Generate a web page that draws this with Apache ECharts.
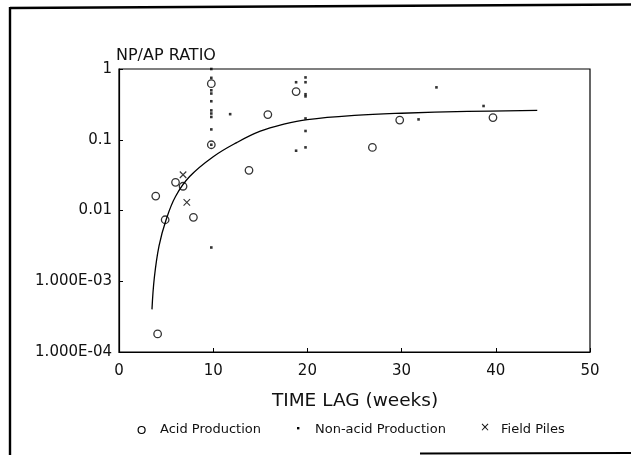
<!DOCTYPE html>
<html>
<head>
<meta charset="utf-8">
<title>NP/AP ratio vs time lag</title>
<script src="https://cdn.jsdelivr.net/npm/echarts@6/dist/echarts.min.js"></script>
<style>
  html, body { margin: 0; padding: 0; background: #fff; }
  #chart { width: 631px; height: 455px; }
</style>
</head>
<body>
<div id="chart"></div>
<script>
// Acid production samples (open circles)
const acidWeeks = [3.9, 4.1, 4.9, 6.0, 6.8, 7.9, 9.8, 9.8, 13.8, 15.8, 18.8, 26.9, 29.8, 39.7];
const acidRatio = [0.016, 0.00018, 0.0074, 0.025, 0.022, 0.008, 0.62, 0.085, 0.037, 0.227, 0.48, 0.078, 0.19, 0.206];

// Non-acid production samples (small dots)
const nonAcidWeeks = [9.8, 9.8, 9.8, 9.8, 9.8, 9.8, 9.8, 9.8, 9.8, 9.8, 9.8, 11.8,
                      18.8, 18.8, 19.8, 19.8, 19.8, 19.8, 19.8, 19.8, 19.8, 31.8, 33.7, 38.7];
const nonAcidRatio = [1.0, 0.75, 0.5, 0.45, 0.35, 0.26, 0.235, 0.21, 0.14, 0.085, 0.003, 0.23,
                      0.65, 0.07, 0.76, 0.65, 0.44, 0.41, 0.2, 0.133, 0.078, 0.194, 0.55, 0.3];

// Field piles (crosses)
const pileWeeks = [6.8, 7.2];
const pileRatio = [0.032, 0.013];

// Fitted trend curve
const curveWeeks = [3.5, 3.75, 4.25, 5.0, 6.0, 7.5, 10.0, 12.5, 15.0, 17.5, 20.0, 25.0, 30.0, 37.0, 44.4];
const curveRatio = [0.0004, 0.00112, 0.00316, 0.0074, 0.0158, 0.0302, 0.0575, 0.0912, 0.132, 0.166, 0.193, 0.221, 0.237, 0.251, 0.26];

// Axis tick labels
const xTicks = [0, 10, 20, 30, 40, 50];
const yTickLabels = ['1.000E-04', '1.000E-03', '0.01', '0.1', '1'];

const zip = (xs, ys) => xs.map((x, i) => [x, ys[i]]);

const FONT = 'DejaVu Sans';
const INK = '#111';

const chart = echarts.init(document.getElementById('chart'), null, { renderer: 'canvas' });

chart.setOption({
  animation: false,
  backgroundColor: '#fff',
  grid: {
    left: 119, top: 69, width: 471, height: 283,
    show: true, borderColor: '#000', borderWidth: 1.2, backgroundColor: 'transparent'
  },
  xAxis: {
    type: 'value',
    min: xTicks[0], max: xTicks[xTicks.length - 1], interval: 10,
    axisLine: { show: true, lineStyle: { color: '#000', width: 1.2 } },
    axisTick: { show: true, inside: true, length: 4, lineStyle: { color: '#000' } },
    splitLine: { show: false },
    axisLabel: { fontFamily: FONT, fontSize: 15, color: INK, margin: 12 }
  },
  yAxis: {
    type: 'log', logBase: 10, min: 0.0001, max: 1,
    axisLine: { show: true, lineStyle: { color: '#000', width: 1.2 } },
    axisTick: { show: true, inside: true, length: 4, lineStyle: { color: '#000' } },
    minorTick: { show: false },
    splitLine: { show: false },
    axisLabel: {
      fontFamily: FONT, fontSize: 15, color: INK, margin: 7, padding: [7, 0, 0, 0],
      formatter: v => yTickLabels[Math.round(Math.log10(v)) + 4]
    }
  },
  series: [
    {
      name: 'Trend',
      type: 'line',
      data: zip(curveWeeks, curveRatio),
      smooth: 0.4,
      symbol: 'none',
      lineStyle: { color: '#000', width: 1.3 },
      z: 2
    },
    {
      name: 'Acid Production',
      type: 'scatter',
      data: zip(acidWeeks, acidRatio),
      symbol: 'circle',
      symbolSize: 7.5,
      itemStyle: { color: 'rgba(0,0,0,0)', borderColor: '#000', borderWidth: 1.3 },
      z: 3
    },
    {
      name: 'Non-acid Production',
      type: 'scatter',
      data: zip(nonAcidWeeks, nonAcidRatio),
      symbol: 'rect',
      symbolSize: 2.6,
      itemStyle: { color: '#000' },
      z: 4
    },
    {
      name: 'Field Piles',
      type: 'scatter',
      data: zip(pileWeeks, pileRatio),
      symbol: 'path://M0,0L10,10M10,0L0,10',
      symbolSize: 6.5,
      itemStyle: { color: 'rgba(0,0,0,0)', borderColor: '#000', borderWidth: 1.1 },
      z: 4
    }
  ],
  graphic: [
    // outer frame
    { type: 'line', shape: { x1: 10, y1: 8, x2: 631, y2: 4.5 }, style: { stroke: '#000', lineWidth: 2.6 } },
    { type: 'line', shape: { x1: 10, y1: 7, x2: 10, y2: 455 }, style: { stroke: '#000', lineWidth: 2.4 } },
    { type: 'line', shape: { x1: 420, y1: 453.5, x2: 631, y2: 453 }, style: { stroke: '#000', lineWidth: 2 } },
    // axis titles
    { type: 'text', left: 116, top: 48,
      style: { text: 'NP/AP RATIO', fontFamily: FONT, fontSize: 16, fill: INK } },
    { type: 'text', x: 355, y: 401,
      style: { text: 'TIME LAG (weeks)', fontFamily: FONT, fontSize: 18.5, fill: INK,
               align: 'center', verticalAlign: 'middle' } },
    // legend
    { type: 'circle', shape: { cx: 141.6, cy: 430, r: 3.5 },
      style: { fill: 'none', stroke: '#000', lineWidth: 1.2 } },
    { type: 'text', x: 160, y: 430,
      style: { text: 'Acid Production', fontFamily: FONT, fontSize: 13, fill: INK, verticalAlign: 'middle' } },
    { type: 'rect', shape: { x: 297, y: 427, width: 2.4, height: 2.4 }, style: { fill: '#000' } },
    { type: 'text', x: 315, y: 430,
      style: { text: 'Non-acid Production', fontFamily: FONT, fontSize: 13, fill: INK, verticalAlign: 'middle' } },
    { type: 'text', x: 485, y: 428,
      style: { text: '×', fontFamily: FONT, fontSize: 12, fill: INK, align: 'center', verticalAlign: 'middle' } },
    { type: 'text', x: 501, y: 430,
      style: { text: 'Field Piles', fontFamily: FONT, fontSize: 13, fill: INK, verticalAlign: 'middle' } }
  ]
});
</script>
</body>
</html>
